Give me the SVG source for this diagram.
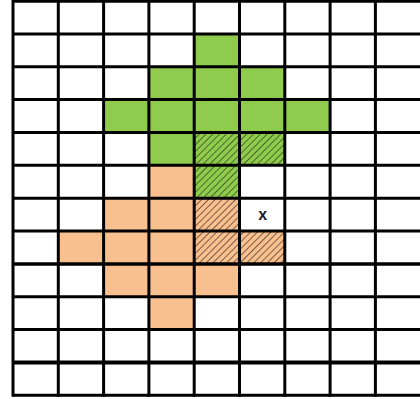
<svg xmlns="http://www.w3.org/2000/svg" width="420" height="399" viewBox="0 0 420 399">
  <defs>
    <pattern id="hatchG" patternUnits="userSpaceOnUse" width="4.8" height="4.8" patternTransform="rotate(45)">
      <rect width="4.8" height="4.8" fill="#8FCB4C"/>
      <line x1="0" y1="0" x2="0" y2="4.8" stroke="#1f2a10" stroke-width="1.2"/>
    </pattern>
    <pattern id="hatchO" patternUnits="userSpaceOnUse" width="4.8" height="4.8" patternTransform="rotate(45)">
      <rect width="4.8" height="4.8" fill="#F8BF8F"/>
      <line x1="0" y1="0" x2="0" y2="4.8" stroke="#2a1d14" stroke-width="1.2"/>
    </pattern>
  </defs>
  <style>
    .g { fill: #8FCB4C; }
    .o { fill: #F8BF8F; }
    .hg { fill: url(#hatchG); }
    .ho { fill: url(#hatchO); }
    .grid line { stroke: #000; stroke-width: 3; }
    .lbl { font-family: "Liberation Sans", Arial, sans-serif; font-size: 16px; font-weight: bold; fill: #1b1b2b; text-anchor: middle; }
  </style>
  <rect width="420" height="399" fill="#fff"/>
  <g id="green-shape">
    <rect class="g" x="194.2" y="33.9" width="45.3" height="32.9"/>
    <rect class="g" x="148.9" y="66.7" width="135.9" height="32.9"/>
    <rect class="g" x="103.6" y="99.6" width="226.5" height="32.9"/>
    <rect class="g" x="148.9" y="132.4" width="45.3" height="32.9"/>
  </g>
  <g id="orange-shape">
    <rect class="o" x="148.9" y="165.3" width="45.3" height="32.9"/>
    <rect class="o" x="103.6" y="198.2" width="90.6" height="32.9"/>
    <rect class="o" x="58.3" y="231.0" width="135.9" height="32.9"/>
    <rect class="o" x="103.6" y="263.9" width="135.9" height="32.9"/>
    <rect class="o" x="148.9" y="296.7" width="45.3" height="32.9"/>
  </g>
  <g id="green-overlap">
    <rect class="hg" x="194.2" y="132.4" width="90.6" height="32.9"/>
    <rect class="hg" x="194.2" y="165.3" width="45.3" height="32.9"/>
  </g>
  <g id="orange-overlap">
    <rect class="ho" x="194.2" y="198.2" width="45.3" height="32.9"/>
    <rect class="ho" x="194.2" y="231.0" width="90.6" height="32.9"/>
  </g>
  <g id="marker-x">
    <text class="lbl" x="262.6" y="220">x</text>
  </g>
  <g id="grid" class="grid">
    <line x1="13" y1="1.3" x2="420" y2="1.3"/>
    <line x1="13" y1="33.9" x2="420" y2="33.9"/>
    <line x1="13" y1="66.7" x2="420" y2="66.7"/>
    <line x1="13" y1="99.6" x2="420" y2="99.6"/>
    <line x1="13" y1="132.4" x2="420" y2="132.4"/>
    <line x1="13" y1="165.3" x2="420" y2="165.3"/>
    <line x1="13" y1="198.2" x2="420" y2="198.2"/>
    <line x1="13" y1="231.0" x2="420" y2="231.0"/>
    <line x1="13" y1="263.9" x2="420" y2="263.9" style="stroke-width:3.5"/>
    <line x1="13" y1="296.7" x2="420" y2="296.7"/>
    <line x1="13" y1="329.6" x2="420" y2="329.6"/>
    <line x1="13" y1="362.5" x2="420" y2="362.5" style="stroke-width:4"/>
    <line x1="13" y1="395.3" x2="420" y2="395.3"/>
    <line x1="13" y1="0" x2="13" y2="396.8"/>
    <line x1="58.3" y1="0" x2="58.3" y2="396.8"/>
    <line x1="103.6" y1="0" x2="103.6" y2="396.8"/>
    <line x1="148.9" y1="0" x2="148.9" y2="396.8"/>
    <line x1="194.2" y1="0" x2="194.2" y2="396.8"/>
    <line x1="239.5" y1="0" x2="239.5" y2="396.8"/>
    <line x1="284.8" y1="0" x2="284.8" y2="396.8"/>
    <line x1="330.1" y1="0" x2="330.1" y2="396.8"/>
    <line x1="375.4" y1="0" x2="375.4" y2="396.8"/>
  </g>
</svg>
